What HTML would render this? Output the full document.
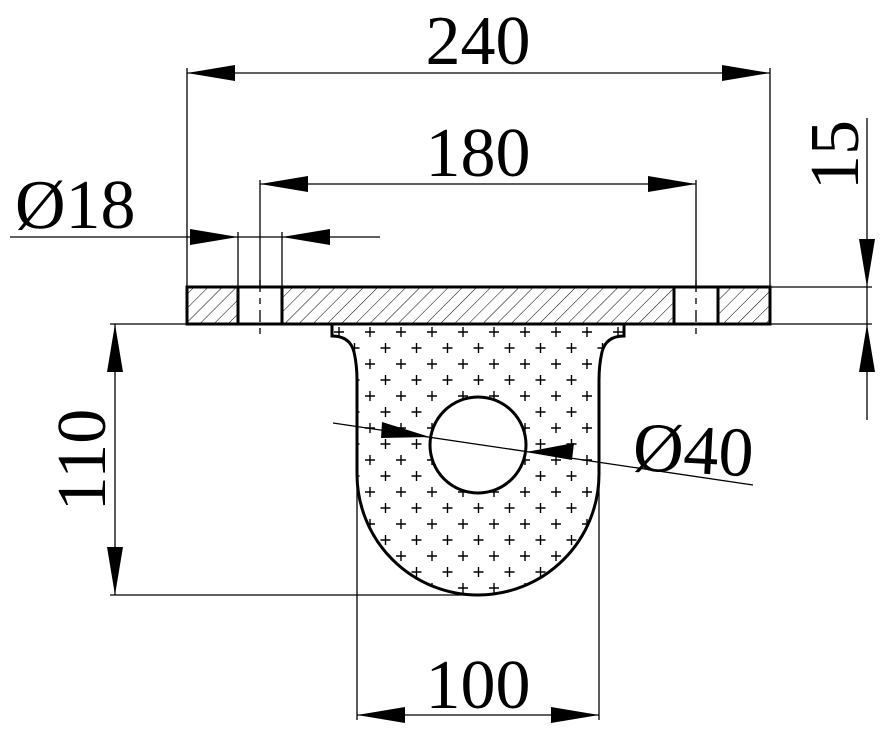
<!DOCTYPE html>
<html><head><meta charset="utf-8"><style>
html,body{margin:0;padding:0;background:#fff;}
svg{display:block;}
text{font-family:"Liberation Serif",serif;font-size:70px;fill:#000;}
</style></head><body>
<svg width="891" height="738" viewBox="0 0 891 738" xmlns="http://www.w3.org/2000/svg">
<defs>
<pattern id="hatch" patternUnits="userSpaceOnUse" width="10" height="10" patternTransform="rotate(45)">
<line x1="0" y1="0" x2="0" y2="10" stroke="#000" stroke-width="1"/>
</pattern>
<pattern id="plus" patternUnits="userSpaceOnUse" x="365" y="327" width="31" height="32">
<path d="M0 5h10M5 0v10M15.5 21h10M20.5 16v10" stroke="#000" stroke-width="1.4"/>
</pattern>
</defs>
<g stroke="#000" stroke-width="1.3" fill="none">
<line x1="187" y1="68" x2="187" y2="287"/>
<line x1="770" y1="68" x2="770" y2="287"/>
<line x1="260" y1="180" x2="260" y2="287"/>
<line x1="696" y1="180" x2="696" y2="287"/>
<line x1="238" y1="232" x2="238" y2="287"/>
<line x1="282" y1="232" x2="282" y2="287"/>
<line x1="770" y1="287" x2="872" y2="287"/>
<line x1="770" y1="324" x2="872" y2="324"/>
<line x1="110" y1="324" x2="187" y2="324"/>
<line x1="110" y1="595" x2="478" y2="595"/>
<line x1="357" y1="480" x2="357" y2="720"/>
<line x1="599" y1="480" x2="599" y2="720"/>
<line x1="187" y1="73" x2="770" y2="73"/>
<line x1="260" y1="184" x2="696" y2="184"/>
<line x1="10" y1="237" x2="380" y2="237"/>
<line x1="867" y1="118" x2="867" y2="420"/>
<line x1="115" y1="324" x2="115" y2="595"/>
<line x1="357" y1="715" x2="599" y2="715"/>
</g>
<path d="M332 324 V336 Q350 336 354 352 Q357 365 357 380 V474 A121 121 0 0 0 599 474 V380 Q599 365 602 352 Q606 336 624 336 V324 Z" fill="url(#plus)" stroke="#000" stroke-width="3"/>
<circle cx="478" cy="445" r="48" fill="#fff" stroke="#000" stroke-width="3"/>
<line x1="333" y1="423" x2="753" y2="485" stroke="#000" stroke-width="1.3"/>
<rect x="187" y="287" width="583" height="37" fill="url(#hatch)" stroke="#000" stroke-width="3"/>
<rect x="238" y="287" width="44" height="37" fill="#fff" stroke="#000" stroke-width="3"/>
<rect x="674" y="287" width="44" height="37" fill="#fff" stroke="#000" stroke-width="3"/>
<line x1="260" y1="280" x2="260" y2="340" stroke="#000" stroke-width="1.3" stroke-dasharray="12 6 6 6"/>
<line x1="696" y1="280" x2="696" y2="340" stroke="#000" stroke-width="1.3" stroke-dasharray="12 6 6 6"/>
<g fill="#000">
<polygon points="187,73 235,65 235,81"/>
<polygon points="770,73 722,65 722,81"/>
<polygon points="260,184 308,176 308,192"/>
<polygon points="696,184 648,176 648,192"/>
<polygon points="238,237 190,229 190,245"/>
<polygon points="282,237 330,229 330,245"/>
<polygon points="867,287 859,239 875,239"/>
<polygon points="867,324 859,372 875,372"/>
<polygon points="115,324 107,372 123,372"/>
<polygon points="115,595 107,547 123,547"/>
<polygon points="357,715 405,707 405,723"/>
<polygon points="599,715 551,707 551,723"/>
<polygon points="430,437 382,422 381,438"/>
<polygon points="526,452 574,443 572,460"/>
</g>
<text x="478" y="64" text-anchor="middle">240</text>
<text x="478" y="176" text-anchor="middle">180</text>
<text x="15" y="228">Ø18</text>
<text x="632" y="470" transform="rotate(3 632 470)">Ø40</text>
<text x="478" y="708" text-anchor="middle">100</text>
<text transform="translate(858 155) rotate(-90)" text-anchor="middle">15</text>
<text transform="translate(105 460) rotate(-90)" text-anchor="middle">110</text>
</svg>
</body></html>
